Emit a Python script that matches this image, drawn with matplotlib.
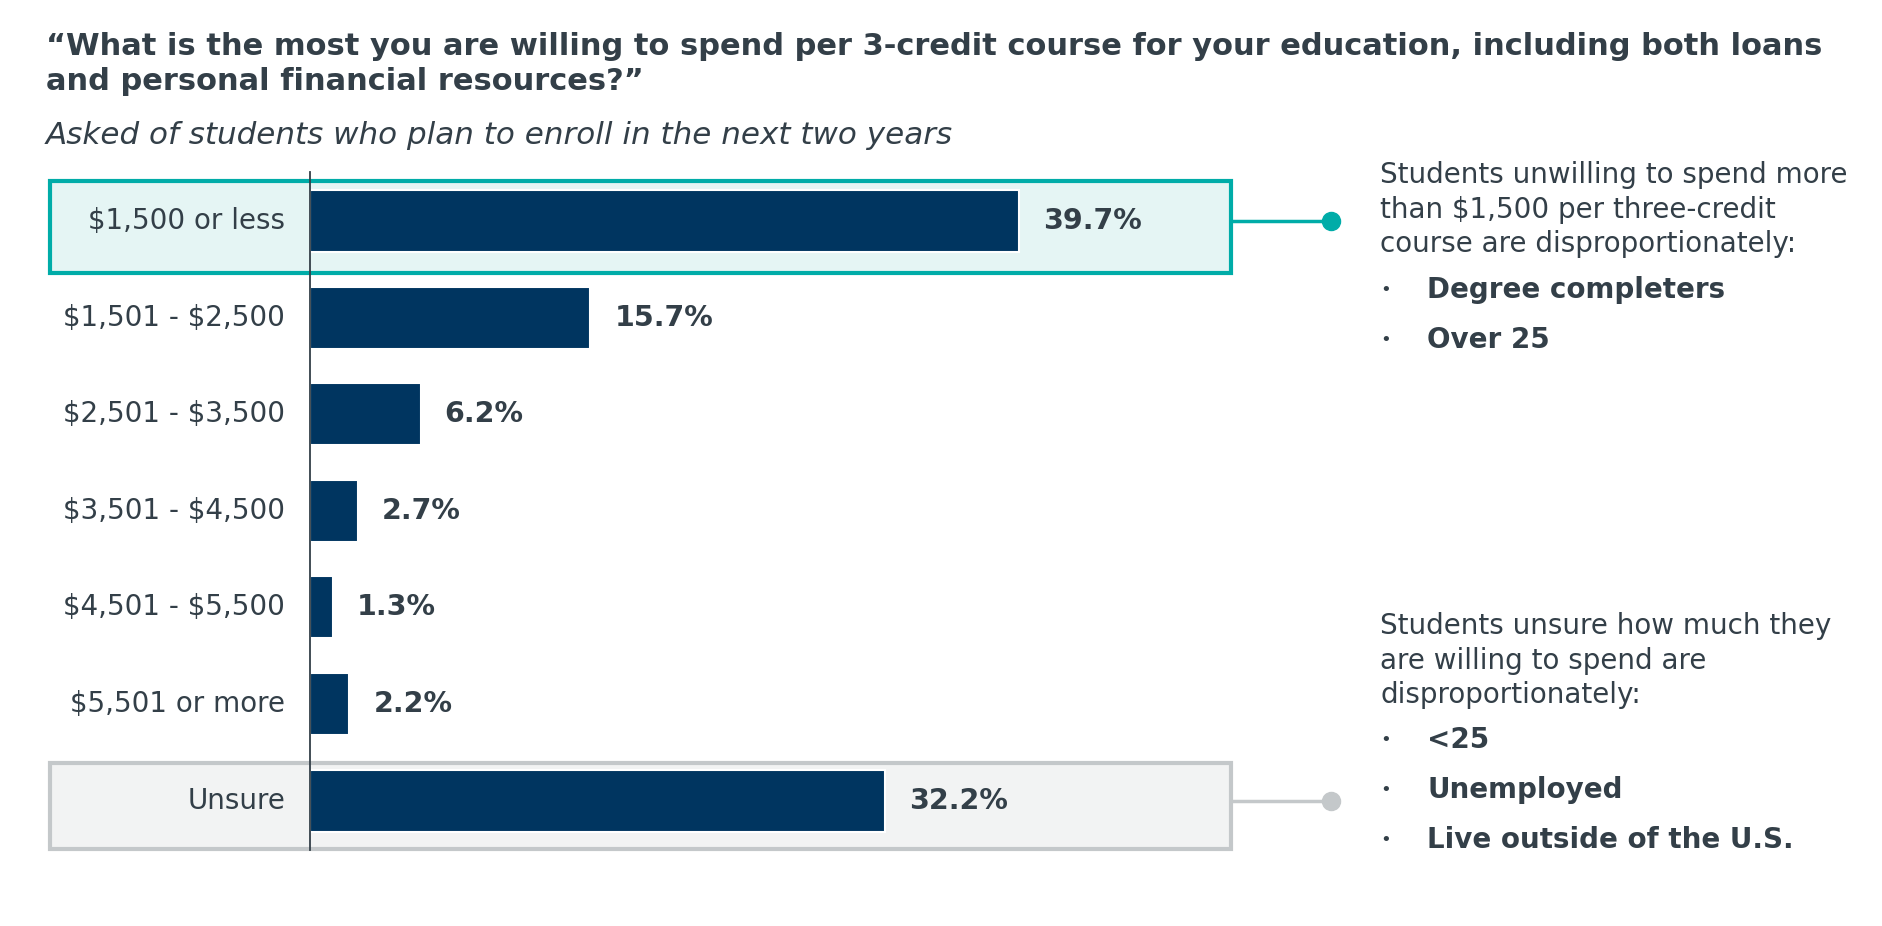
import matplotlib
matplotlib.use('Agg')
import matplotlib.pyplot as plt
from matplotlib.patches import Rectangle

plt.rcParams['font.family'] = 'DejaVu Sans'

categories = ['\\$1,500 or less', '\\$1,501 - \\$2,500', '\\$2,501 - \\$3,500', '\\$3,501 - \\$4,500',
              '\\$4,501 - \\$5,500', '\\$5,501 or more', 'Unsure']
values = [39.7, 15.7, 6.2, 2.7, 1.3, 2.2, 32.2]

title = ('\u201cWhat is the most you are willing to spend per 3-credit course for your education, including both loans\n'
         'and personal financial resources?\u201d')
subtitle = 'Asked of students who plan to enroll in the next two years'

note_top = 'Students unwilling to spend more\nthan \\$1,500 per three-credit\ncourse are disproportionately:'
bullets_top = ['Degree completers', 'Over 25']
note_bot = 'Students unsure how much they\nare willing to spend are\ndisproportionately:'
bullets_bot = ['<25', 'Unemployed', 'Live outside of the U.S.']

NAVY = '#003560'
TEXT = '#333f48'
TEAL = '#00aca8'
TEAL_BG = '#e5f5f4'
GREY = '#c4c8ca'
GREY_BG = '#f2f3f3'

W, H = 1882, 926
fig = plt.figure(figsize=(W / 100, H / 100), dpi=100)
ax = fig.add_axes([0, 0, 1, 1])

# pixel -> data mapping: zero at px 310, 17.86 px per percent; rows 96.6 px apart starting at px 221
x0, sx = 310, 17.86
y0, sy = 221, 96.6
ax.set_xlim(-x0 / sx, (W - x0) / sx)
ax.set_ylim((H - y0) / sy, -y0 / sy)
ax.axis('off')

def px(x):
    return (x - x0) / sx

def py(y):
    return (y - y0) / sy

# highlight boxes
ax.add_patch(Rectangle((px(50), py(181)), px(1231) - px(50), py(273) - py(181),
                       facecolor=TEAL_BG, edgecolor=TEAL, linewidth=3, zorder=1))
ax.add_patch(Rectangle((px(50), py(763)), px(1231) - px(50), py(849) - py(763),
                       facecolor=GREY_BG, edgecolor=GREY, linewidth=3, zorder=1))

rows = list(range(len(categories)))
ax.barh(rows, values, height=0.64, color=NAVY, edgecolor='white', linewidth=1.5, zorder=2)
ax.plot([0, 0], [py(172), py(850)], color=TEXT, linewidth=1.3, zorder=3)

for r, cat, v in zip(rows, categories, values):
    ax.text(px(285), r, cat, ha='right', va='center', fontsize=20, color=TEXT, zorder=4)
    ax.text(v + px(1043) - px(1019), r, f'{v:.1f}%', ha='left', va='center',
            fontsize=20.5, fontweight='bold', color=TEXT, zorder=4)

# connectors
ax.plot([px(1231), px(1331)], [0, 0], color=TEAL, linewidth=2.5, zorder=1)
ax.plot(px(1331), 0, 'o', color=TEAL, markersize=13, zorder=2)
ax.plot([px(1231), px(1331)], [6, 6], color=GREY, linewidth=2.5, zorder=1)
ax.plot(px(1331), 6, 'o', color=GREY, markersize=13, zorder=2)

fig.text(46 / W, 1 - 64 / H, title, ha='left', va='center', fontsize=22, fontweight='bold',
         color=TEXT, linespacing=1.22)
fig.text(46 / W, 1 - 135 / H, subtitle, ha='left', va='center', fontsize=22.3, style='italic',
         color=TEXT)

def side_note(y_top, note, bullets, y_bul):
    fig.text(1380 / W, 1 - y_top / H, note, ha='left', va='top', fontsize=20, color=TEXT,
             linespacing=1.3)
    for i, b in enumerate(bullets):
        yy = 1 - (y_bul + i * 50) / H
        fig.text(1380 / W, yy, '\u2022', ha='left', va='center', fontsize=13, color=TEXT)
        fig.text(1427 / W, yy, b, ha='left', va='center', fontsize=20, fontweight='bold',
                 color=TEXT)

side_note(161, note_top, bullets_top, 290)
side_note(612, note_bot, bullets_bot, 740)

fig.savefig('out.png', dpi=100, facecolor='white')
